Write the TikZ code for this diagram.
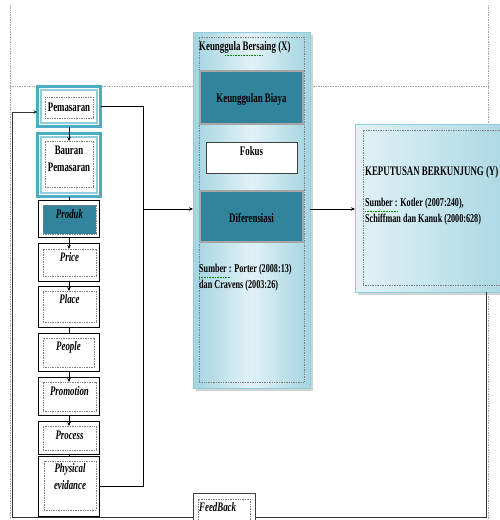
\documentclass[tikz,border=0pt]{standalone}
\usepackage{fontspec}
\setmainfont{Liberation Serif}[FakeStretch=0.68]
\usetikzlibrary{arrows.meta,calc}
\definecolor{aqua}{HTML}{4BACC6}
\definecolor{aqualt}{HTML}{92CDDC}
\definecolor{tealdk}{HTML}{31849B}
\definecolor{pale}{HTML}{E2F2F6}
\definecolor{midaq}{HTML}{A3D4E1}
\begin{document}
\begin{tikzpicture}[x=1pt,y=-1pt,
  box/.style={inner sep=0pt,outer sep=0pt},
  cyanbox/.style={box,draw=aqua,line width=3pt,fill=white,minimum width=63pt},
  blackbox/.style={box,draw=black,line width=1pt,fill=white,minimum width=61pt},
  dotbox/.style={box,draw=gray,line width=0.6pt,dash pattern=on 1pt off 0.7pt,minimum width=53pt},
  frameline/.style={draw=gray!70,line width=0.6pt,dash pattern=on 1pt off 0.7pt},
  lbl/.style={inner sep=0pt,font=\fontsize{13}{17}\selectfont\bfseries},
  ilbl/.style={lbl,font=\fontsize{13}{17}\selectfont\bfseries\itshape},
  slbl/.style={inner sep=0pt,font=\fontsize{12}{16}\selectfont\bfseries,align=left},
  conn/.style={draw=black,line width=0.8pt},
  arr/.style={conn,-{Stealth[length=4pt,width=3.5pt]}},
  squig/.style={draw=green!55!black,line width=0.7pt,dash pattern=on 0.8pt off 0.8pt}
]
\useasboundingbox (0,0) rectangle (500,520);
\fill[white] (0,0) rectangle (500,520);
% page frame (dotted)
\draw[frameline] (10,5) -- (10,520);
\draw[frameline] (488,5) -- (488,520);
\draw[frameline] (10,86) -- (488,86);
% feedback loop coordinates
\coordinate (fr) at (486,292);
\coordinate (fbr) at (486,517);
\coordinate (fbl) at (12,517);
\coordinate (fbt) at (12,112);
\coordinate (jx) at (143,0);
\coordinate (jm) at (143,209);

% ---------- left column ----------
\node[cyanbox,minimum height=40pt] (pem) at (69,106.5) {};
\draw[aqualt,line width=1.3pt] ($(pem.north west)+(3.5,3.5)$) rectangle ($(pem.south east)+(-3.5,-3.5)$);
\node[dotbox,minimum width=48pt,minimum height=21pt] (pemin) at (69,107.5) {};
\node[lbl] (pemt) at (69,107) {Pemasaran};

\node[cyanbox,minimum height=63pt] (bau) at (69,165) {};
\draw[aqualt,line width=1.3pt] ($(bau.north west)+(3.5,3.5)$) rectangle ($(bau.south east)+(-3.5,-3.5)$);
\node[dotbox,minimum width=48pt,minimum height=46pt] (bauin) at (69,164) {};
\node[lbl,align=center] (baut) at (69,158.5) {Bauran\\Pemasaran};

\node[blackbox,minimum height=37pt] (prod) at (69,219) {};
\node[dotbox,fill=tealdk,minimum height=29pt] (prodin) at (69.5,219.5) {};
\node[ilbl] (prodt) at (69.5,214) {Produk};

\node[blackbox,minimum height=38pt] (price) at (69,262.5) {};
\node[dotbox,minimum height=27pt] (pricein) at (69.5,262.5) {};
\node[ilbl] (pricet) at (69.5,257) {Price};

\node[blackbox,minimum height=41pt] (place) at (69,307) {};
\node[dotbox,minimum height=31pt] (placein) at (69.5,306.5) {};
\node[ilbl] (placet) at (69.5,299) {Place};

\node[blackbox,minimum height=38pt] (people) at (69,352.5) {};
\node[dotbox,minimum width=51pt,minimum height=29pt] (peoplein) at (68.5,352.5) {};
\node[ilbl] (peoplet) at (68.5,347) {People};

\node[blackbox,minimum height=38pt] (promo) at (69,396.5) {};
\node[dotbox,minimum height=29pt] (promoin) at (69.5,396.5) {};
\node[ilbl] (promot) at (69.5,391) {Promotion};

\node[blackbox,minimum height=33pt] (process) at (69,438) {};
\node[dotbox,minimum height=24pt] (processin) at (69.5,438) {};
\node[ilbl] (processt) at (69.5,435) {Process};

\node[blackbox,minimum height=60pt] (phys) at (69,486.5) {};
\node[dotbox,minimum width=52pt,minimum height=49pt] (physin) at (70,485.5) {};
\node[ilbl,align=center] (physt) at (70,476.5) {Physical\\evidance};

% vertical connectors
\draw[arr] (pem.south) -- (pem.south |- bauin.north);
\draw[conn] (bau.south) -- (bau.south |- prod.north);
\draw[arr] (prod.south) -- (prod.south |- pricein.north);
\draw[arr] (price.south) -- (price.south |- placein.north);
\draw[conn] (place.south) -- (place.south |- people.north);
\draw[arr] (people.south) -- (people.south |- promoin.north);
\draw[arr] (promo.south) -- (promo.south |- processin.north);
\draw[conn] (process.south) -- (process.south |- phys.north);

% ---------- middle panel ----------
\fill[gray!35] (196,35) rectangle (313,391);
\node[box,draw=aqualt,line width=0.8pt,left color=midaq,right color=midaq,middle color=pale,
      minimum width=117pt,minimum height=356pt] (kb) at (251.5,210) {};
\node[dotbox,minimum width=105pt,minimum height=345pt] (kbin) at (251.5,209.5) {};
\node[lbl,anchor=west] (kbt) at (199,47) {Keunggula Bersaing (X)};
\draw[squig] (225,55) -- (263,55);

\node[box,fill=tealdk,draw=black!85,double=gray!70,double distance=1.2pt,line width=0.7pt,
      minimum width=103pt,minimum height=53pt] (kbb) at (251.5,97.5) {};
\node[lbl] (kbbt) at (251.5,99) {Keunggulan Biaya};

\node[box,fill=white,draw=black!75,line width=0.8pt,minimum width=91pt,minimum height=31pt] (fok) at (251.5,157.5) {};
\node[lbl] (fokt) at (251.5,151) {Fokus};

\node[box,fill=tealdk,draw=black!85,double=gray!70,double distance=1.2pt,line width=0.7pt,
      minimum width=103pt,minimum height=51pt] (dif) at (251.5,216.5) {};
\node[lbl] (dift) at (251.5,218) {Diferensiasi};

\node[slbl,anchor=west] (kbs) at (199,278) {Sumber : Porter (2008:13)\\dan Cravens (2003:26)};
\draw[squig] (199,277) -- (231,277);

% ---------- KEPUTUSAN ----------
\fill[gray!35] (358,127) rectangle (530,295);
\node[box,draw=aqualt,line width=0.8pt,left color=pale,right color=midaq,
      minimum width=175pt,minimum height=168pt] (kep) at (442.5,208) {};
\node[dotbox,minimum width=165pt,minimum height=155pt] (kepin) at (445.5,207.5) {};
\node[lbl,anchor=west] (kept) at (365,172) {KEPUTUSAN BERKUNJUNG (Y)};
\node[slbl,anchor=west] (keps) at (365,212) {Sumber : Kotler (2007:240),\\Schiffman dan Kanuk (2000:628)};
\draw[squig] (365,211) -- (398,211);

% ---------- connectors ----------
\draw[conn] (pem.east) -- (pem.east -| jx) -- (phys.east -| jx) -- (phys.east);
\draw[arr] (jm) -- (jm -| kb.west);
\draw[arr] (kb.east |- jm) -- (kep.west |- jm);
\draw[arr,draw=black!80,line width=1pt] (fr) -- (fbr) -- (fbl) -- (fbt) -- (pem.west |- fbt);

% ---------- FeedBack ----------
\node[box,fill=white,draw=black!75,line width=0.8pt,minimum width=62pt,minimum height=40pt] (fb) at (224,513) {};
\node[dotbox,minimum width=52pt,minimum height=34pt] (fbin) at (224,516) {};
\node[ilbl,anchor=west] (fbtx) at (199,507) {FeedBack};
\end{tikzpicture}
\end{document}
